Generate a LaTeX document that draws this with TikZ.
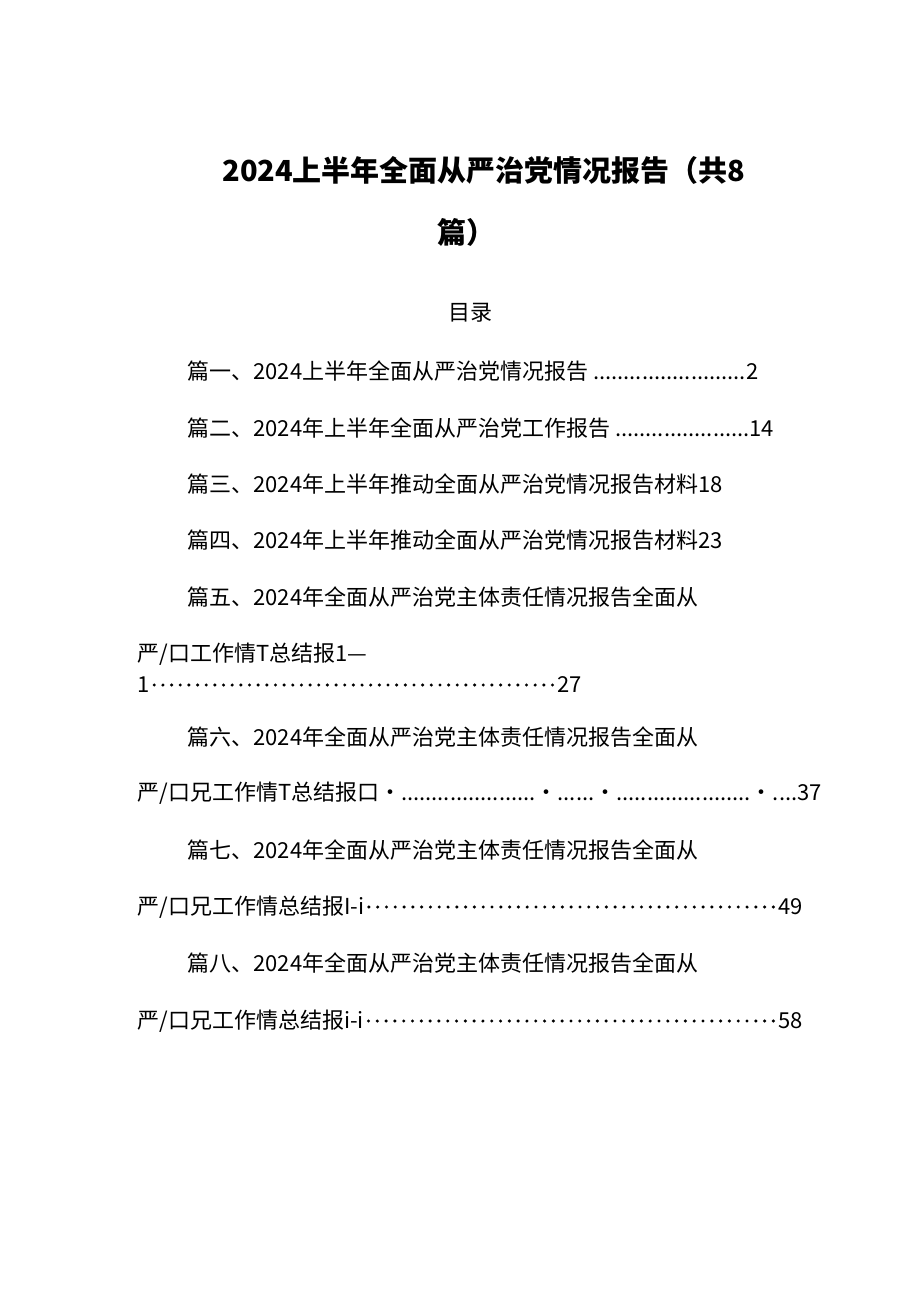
\documentclass[tikz,border=0pt]{standalone}
\usepackage{fontspec}
\setmainfont{Noto Sans CJK SC}
\usetikzlibrary{calc}
\tikzset{every picture/.style={line width=0.75pt}}
\tikzset{tocline/.style={anchor=west,inner sep=0pt,font=\fontsize{22}{22}\selectfont},
  pagenum/.style={anchor=east,inner sep=0pt,font=\fontsize{22}{22}\selectfont},
  leaderdot/.style={fill=black,draw=none}}
\begin{document}
\begin{tikzpicture}[x=1pt,y=1pt,yscale=-1,xscale=1]
\useasboundingbox[fill=white] (0,0) rectangle (920,1301);

% Title
\node (title1) at (484,170) [inner sep=0pt,font=\fontsize{29}{29}\selectfont\bfseries] {2024上半年全面从严治党情况报告（共8};
\node (title2) at (466,232) [inner sep=0pt,font=\fontsize{29}{29}\selectfont\bfseries] {篇）};
\node (mulu) at (470,313) [inner sep=0pt,font=\fontsize{22}{22}\selectfont] {目录};

% Entries
\node (p1) at (187,371) [tocline] {篇一、2024上半年全面从严治党情况报告 .........................2};
\node (p2) at (187,428) [tocline] {篇二、2024年上半年全面从严治党工作报告 ......................14};
\node (p3) at (187,484) [tocline] {篇三、2024年上半年推动全面从严治党情况报告材料18};
\node (p4) at (187,540) [tocline] {篇四、2024年上半年推动全面从严治党情况报告材料23};
\node (p5) at (187,597) [tocline] {篇五、2024年全面从严治党主体责任情况报告全面从};
\node (p5a) at (137,654) [tocline] {严/口工作情T总结报1—};
\node (p5b) at (137,685) [tocline] {1};
\node (n5) at (582,685) [pagenum] {27};
\node (p6) at (187,737) [tocline] {篇六、2024年全面从严治党主体责任情况报告全面从};
\node (p6a) at (137,793) [tocline] {严/口兄工作情T总结报口·......................·......·......................·....37};
\node (p7) at (187,850) [tocline] {篇七、2024年全面从严治党主体责任情况报告全面从};
\node (p7a) at (137,907) [tocline] {严/口兄工作情总结报I-i};
\node (n7) at (803,907) [pagenum] {49};
\node (p8) at (187,963) [tocline] {篇八、2024年全面从严治党主体责任情况报告全面从};
\node (p8a) at (137,1021) [tocline] {严/口兄工作情总结报i-i};
\node (n8) at (803,1021) [pagenum] {58};

% leaders
\foreach \a/\b/\n in {p5b/n5/47, p7a/n7/47, p8a/n8/47}
  \foreach \i in {1,...,\n}
    \fill[leaderdot] ($(\a.east)!{(\i-0.5)/\n}!(\b.west)$) circle (1.7);

\end{tikzpicture}
\end{document}
